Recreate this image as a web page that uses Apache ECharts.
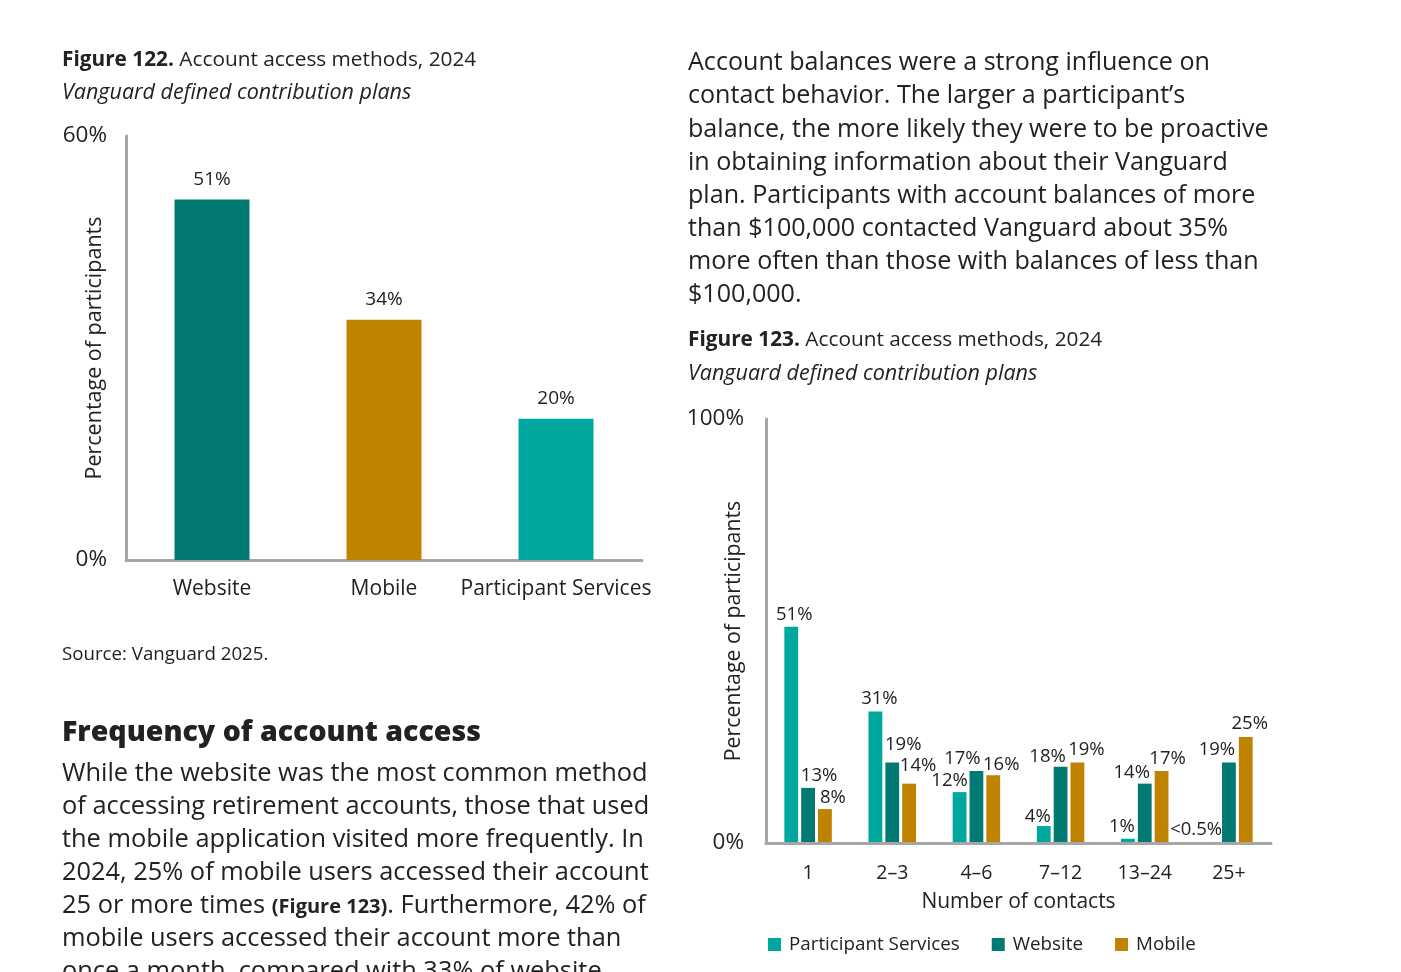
<!DOCTYPE html>
<html>
<head>
<meta charset="utf-8">
<script src="https://cdn.jsdelivr.net/npm/echarts@6/dist/echarts.min.js"></script>
<style>
  html, body { margin:0; padding:0; background:#fff; }
  body { width:1401px; height:972px; overflow:hidden; position:relative; font-family: "Open Sans", Lato, sans-serif; color:#222; }
  #chart { position:absolute; left:0; top:0; width:1401px; height:972px; }
  .t { position:absolute; white-space:nowrap; line-height:1.2; transform:translateY(-50%); z-index:2; }
  .cap { font-size:20.8px; }
  .sub { font-size:21.5px; font-style:italic; }
  .para { font-size:25.1px; }
  .paraL { font-size:25.4px; }
  .h { font-size:28.5px; font-weight:800; }
  .src { font-size:18.7px; }
  .small { font-size:20px; font-weight:700; }
</style>
</head>
<body>
<div id="chart"></div>

<div class="t cap" style="left:62px; top:58px;"><b>Figure 122.</b> Account access methods, 2024</div>
<div class="t sub" style="left:62px; top:91px;">Vanguard defined contribution plans</div>
<div class="t src" style="left:62px; top:653px;">Source: Vanguard 2025.</div>
<div class="t h" style="left:62px; top:730px;">Frequency of account access</div>
<div class="t paraL" style="left:62px; top:771px;">While the website was the most common method</div>
<div class="t paraL" style="left:62px; top:804px;">of accessing retirement accounts, those that used</div>
<div class="t paraL" style="left:62px; top:837px;">the mobile application visited more frequently. In</div>
<div class="t paraL" style="left:62px; top:870px;">2024, 25% of mobile users accessed their account</div>
<div class="t paraL" style="left:62px; top:903px;">25 or more times <span class="small">(Figure 123)</span>. Furthermore, 42% of</div>
<div class="t paraL" style="left:62px; top:936px;">mobile users accessed their account more than</div>
<div class="t paraL" style="left:62px; top:969px;">once a month, compared with 33% of website</div>

<div class="t para" style="left:688px; top:60px;">Account balances were a strong influence on</div>
<div class="t para" style="left:688px; top:93px;">contact behavior. The larger a participant’s</div>
<div class="t para" style="left:688px; top:127px;">balance, the more likely they were to be proactive</div>
<div class="t para" style="left:688px; top:160px;">in obtaining information about their Vanguard</div>
<div class="t para" style="left:688px; top:193px;">plan. Participants with account balances of more</div>
<div class="t para" style="left:688px; top:226px;">than $100,000 contacted Vanguard about 35%</div>
<div class="t para" style="left:688px; top:259px;">more often than those with balances of less than</div>
<div class="t para" style="left:688px; top:292px;">$100,000.</div>
<div class="t cap" style="left:688px; top:338px;"><b>Figure 123.</b> Account access methods, 2024</div>
<div class="t sub" style="left:688px; top:372px;">Vanguard defined contribution plans</div>

<script>
// ---- Data ----
const fig122Categories = ['Website', 'Mobile', 'Participant Services'];
const fig122Values = [51, 34, 20];

const fig123Categories = ['1', '2–3', '4–6', '7–12', '13–24', '25+'];
const participantServices = [51, 31, 12, 4, 1, 0.2];
const website = [13, 19, 17, 18, 14, 19];
const mobile = [8, 14, 16, 19, 17, 25];
const participantServicesLabels = ['51%', '31%', '12%', '4%', '1%', '<0.5%'];

// ---- Styling ----
const FONT = 'Open Sans';
const TXT = '#222';
const AXIS = '#a6a6a6';
const C_WEB = '#007a73';
const C_MOB = '#c08300';
const C_PS = '#00a79e';
const fig122Colors = [C_WEB, C_MOB, C_PS];
// label nudges [dx, dy] (px) to mimic the source layout
const psNudge = [[3, 0], [4, 0], [-10, 1], [-6, 3], [-6, 0], [-16, 0]];
const webNudge = [[11, 0], [11, -5], [-14, 0], [-13, 3], [-13, 2], [-12, 0]];
const mobNudge = [[8, 1], [9, -5], [8, 2], [9, 0], [6, 0], [4, -1]];

function withLabels(values, nudges, texts) {
  return values.map((v, i) => ({
    value: v,
    label: { offset: nudges[i], formatter: texts ? texts[i] : (v + '%') }
  }));
}

const axisLine = { show: true, lineStyle: { color: AXIS, width: 3 } };
const labelStyle = { color: TXT, fontFamily: FONT };

const chart = echarts.init(document.getElementById('chart'), null, { renderer: 'canvas' });
chart.setOption({
  animation: false,
  textStyle: { fontFamily: FONT, color: TXT },
  grid: [
    { left: 126, right: 759, top: 136, bottom: 412 },
    { left: 766, right: 130, top: 419, bottom: 129 }
  ],
  xAxis: [
    { gridIndex: 0, type: 'category', data: fig122Categories, axisLine, axisTick: { show: false },
      axisLabel: { ...labelStyle, fontSize: 21, margin: 19, interval: 0 } },
    { gridIndex: 1, type: 'category', data: fig123Categories, axisLine, axisTick: { show: false }, z: 3,
      axisLabel: { ...labelStyle, fontSize: 19.5, margin: 20, interval: 0 },
      name: 'Number of contacts', nameLocation: 'middle', nameGap: 49, nameMoveOverlap: false,
      nameTextStyle: { ...labelStyle, fontSize: 21 } }
  ],
  yAxis: [
    { gridIndex: 0, type: 'value', min: 0, max: 60, interval: 60, axisLine, axisTick: { show: false },
      splitLine: { show: false },
      axisLabel: { ...labelStyle, fontSize: 22.5, margin: 19, formatter: '{value}%' },
      name: 'Percentage of participants', nameLocation: 'middle', nameRotate: 90, nameGap: 20,
      nameMoveOverlap: false,
      nameTextStyle: { ...labelStyle, fontSize: 21.5 } },
    { gridIndex: 1, type: 'value', min: 0, max: 100, interval: 100, axisLine, axisTick: { show: false },
      splitLine: { show: false },
      axisLabel: { ...labelStyle, fontSize: 22.5, margin: 22, formatter: '{value}%' },
      name: 'Percentage of participants', nameLocation: 'middle', nameRotate: 90, nameGap: 22,
      nameMoveOverlap: false,
      nameTextStyle: { ...labelStyle, fontSize: 21.3 } }
  ],
  legend: {
    left: 763, top: 930, icon: 'rect', itemWidth: 13, itemHeight: 13, itemGap: 32,
    textStyle: { ...labelStyle, fontSize: 18.8, padding: [0, 0, 0, 3] },
    data: ['Participant Services', 'Website', 'Mobile']
  },
  series: [
    { type: 'bar', xAxisIndex: 0, yAxisIndex: 0, barWidth: 75, data: fig122Values,
      itemStyle: { color: p => fig122Colors[p.dataIndex] },
      label: { show: true, position: 'top', distance: 11, ...labelStyle, fontSize: 19, formatter: '{c}%' } },
    { type: 'bar', name: 'Participant Services', xAxisIndex: 1, yAxisIndex: 1, barWidth: 13.8, barGap: '22%',
      itemStyle: { color: C_PS }, data: withLabels(participantServices, psNudge, participantServicesLabels),
      label: { show: true, position: 'top', distance: 3, ...labelStyle, fontSize: 18.5 } },
    { type: 'bar', name: 'Website', xAxisIndex: 1, yAxisIndex: 1, barWidth: 13.8, barGap: '22%',
      itemStyle: { color: C_WEB }, data: withLabels(website, webNudge),
      label: { show: true, position: 'top', distance: 3, ...labelStyle, fontSize: 18.5 } },
    { type: 'bar', name: 'Mobile', xAxisIndex: 1, yAxisIndex: 1, barWidth: 13.8, barGap: '22%',
      itemStyle: { color: C_MOB }, data: withLabels(mobile, mobNudge),
      label: { show: true, position: 'top', distance: 3, ...labelStyle, fontSize: 18.5 } }
  ]
});
</script>
</body>
</html>
